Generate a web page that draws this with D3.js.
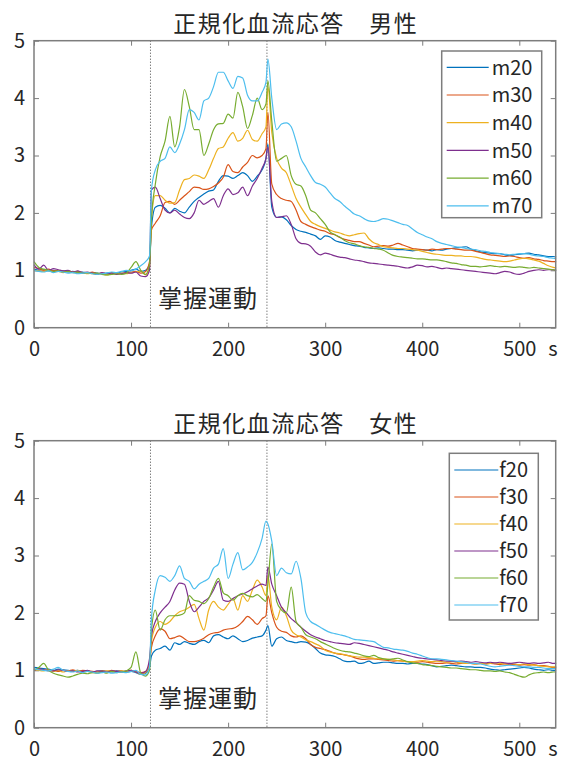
<!DOCTYPE html>
<html>
<head>
<meta charset="utf-8">
<script src="https://cdn.jsdelivr.net/npm/d3@7"></script>
<style>
body { margin: 0; background: #fff; }
text { font-family: "Noto Sans CJK JP", "Noto Sans", sans-serif; fill: #262626; }
</style>
</head>
<body>
<div id="chart"></div>
<script>

// sample times (s)
var times = [0,5,10,15,20,25,30,35,40,45,50,55,60,65,70,75,80,85,90,95,100,105,110,115,
	119,
	121,125,130,135,140,145,150,155,160,165,170,175,180,185,190,195,200,205,210,215,220,225,230,235,239,
	241,
	245,250,255,260,265,270,275,280,285,290,295,300,305,310,315,320,325,330,335,340,
	345,350,355,360,365,370,375,380,385,390,395,400,405,410,415,420,425,430,435,440,
	445,450,455,460,465,470,475,480,485,490,495,500,505,510,515,520,525,530,535,
	538];

var maleNames = ['m20', 'm30', 'm40', 'm50', 'm60', 'm70'];
var femaleNames = ['f20', 'f30', 'f40', 'f50', 'f60', 'f70'];

var m20 = [1.02,1.00,1.01,0.99,1.00,0.98,0.99,0.97,0.98,0.96,0.97,0.95,0.96,0.95,0.94,0.95,0.96,0.95,0.97,0.98,1.00,1.02,0.98,1.00,
	1.10,
	1.75,2.10,2.13,2.08,2.00,2.08,2.03,2.00,2.10,2.20,2.27,2.33,2.38,2.40,2.55,2.65,2.64,2.60,2.65,2.70,2.65,2.55,2.64,2.75,2.95,
	3.20,
	2.10,1.92,1.93,1.88,1.78,1.71,1.68,1.66,1.63,1.60,1.54,1.60,1.58,1.52,1.49,1.47,1.45,1.43,1.42,1.40,
	1.39,1.38,1.39,1.38,1.37,1.37,1.36,1.36,1.35,1.34,1.35,1.36,1.35,1.34,1.36,1.35,1.37,1.38,1.39,1.40,
	1.41,1.37,1.34,1.32,1.31,1.30,1.29,1.29,1.27,1.26,1.27,1.28,1.29,1.30,1.28,1.27,1.25,1.24,1.24,
	1.23];
var m30 = [1.05,1.03,1.00,1.02,0.99,1.00,0.98,0.99,0.97,0.98,0.96,0.95,0.97,0.94,0.95,0.94,0.96,0.95,0.94,0.96,0.97,0.98,0.95,0.98,
	1.15,
	1.70,1.82,1.95,2.18,2.20,2.15,2.22,2.30,2.37,2.45,2.44,2.41,2.42,2.46,2.52,2.62,2.84,2.72,2.70,2.80,2.88,3.00,2.96,3.00,3.12,
	3.75,
	2.50,2.32,2.25,2.22,2.20,2.05,1.85,1.80,1.76,1.73,1.70,1.68,1.64,1.62,1.57,1.54,1.52,1.50,1.50,1.47,
	1.44,1.41,1.42,1.43,1.42,1.44,1.47,1.44,1.41,1.38,1.37,1.36,1.35,1.37,1.36,1.37,1.38,1.38,1.37,1.36,
	1.35,1.35,1.33,1.31,1.29,1.27,1.26,1.25,1.24,1.25,1.24,1.22,1.21,1.22,1.20,1.19,1.17,1.16,1.15,
	1.15];
var m40 = [1.00,0.99,0.98,1.00,0.97,0.98,0.96,0.99,0.97,0.95,0.96,0.94,0.95,0.93,0.94,0.92,0.94,0.93,0.95,0.94,0.96,0.97,0.99,0.92,
	1.05,
	1.90,2.30,2.30,2.22,2.17,2.18,2.40,2.58,2.60,2.66,2.64,2.60,2.75,2.95,3.12,3.15,3.30,3.40,3.25,3.30,3.44,3.28,3.25,3.38,3.50,
	4.20,
	3.40,2.95,2.78,2.70,2.48,2.25,2.10,1.97,1.85,1.80,1.76,1.73,1.70,1.67,1.65,1.62,1.60,1.62,1.64,1.65,
	1.55,1.48,1.45,1.41,1.40,1.39,1.38,1.38,1.37,1.36,1.35,1.33,1.31,1.29,1.28,1.27,1.26,1.26,1.25,1.25,
	1.24,1.24,1.23,1.21,1.19,1.18,1.17,1.16,1.15,1.16,1.18,1.20,1.21,1.20,1.18,1.16,1.12,1.08,1.05,
	1.04];
var m50 = [1.10,1.02,1.09,1.00,1.03,1.01,0.99,1.00,0.97,0.99,0.96,0.97,0.95,0.93,0.96,0.94,0.95,0.93,0.94,0.96,0.95,0.97,0.90,0.89,
	1.00,
	2.40,2.45,2.25,2.05,2.00,2.05,1.98,1.92,1.90,2.00,2.22,2.15,2.20,2.25,2.10,2.30,2.42,2.32,2.35,2.45,2.30,2.47,2.60,2.78,2.95,
	3.15,
	2.20,1.92,1.93,1.95,1.80,1.55,1.47,1.46,1.42,1.32,1.27,1.30,1.28,1.25,1.23,1.22,1.20,1.18,1.17,1.15,
	1.13,1.12,1.11,1.10,1.09,1.08,1.07,1.05,1.04,1.06,1.09,1.08,1.06,1.07,1.05,1.03,1.04,1.03,1.02,1.01,
	1.00,0.99,0.98,0.97,0.96,0.95,0.94,0.96,0.98,0.97,0.94,0.93,0.95,0.98,1.00,1.01,1.00,1.01,1.01,
	1.00];
var m60 = [1.15,1.05,1.02,1.00,0.98,0.99,0.97,0.98,0.96,0.97,0.95,0.96,0.94,0.95,0.93,0.92,0.93,0.94,0.93,0.95,1.05,1.15,1.00,0.93,
	1.10,
	1.90,2.50,2.98,3.25,3.68,3.15,3.50,4.15,3.85,3.45,3.45,3.00,3.20,3.45,3.55,3.56,3.72,3.65,4.10,3.85,3.47,3.70,4.00,3.80,3.90,
	4.30,
	3.60,2.90,2.95,3.00,2.65,2.50,2.47,2.30,2.05,2.00,1.90,1.80,1.67,1.62,1.58,1.52,1.48,1.46,1.43,1.41,
	1.40,1.38,1.37,1.35,1.30,1.26,1.24,1.23,1.22,1.21,1.20,1.20,1.19,1.18,1.18,1.17,1.15,1.13,1.12,1.10,
	1.09,1.07,1.07,1.06,1.07,1.08,1.07,1.06,1.07,1.06,1.05,1.06,1.05,1.04,1.05,1.04,1.03,1.02,1.01,
	1.00];
var m70 = [1.00,0.98,0.97,0.99,0.96,0.98,0.97,0.95,0.96,0.94,0.95,0.96,0.94,0.93,0.94,0.95,0.97,0.96,0.98,1.00,0.99,1.02,1.08,1.15,
	1.25,
	2.40,2.75,2.90,2.95,3.15,3.05,3.20,3.45,3.80,3.75,3.62,3.95,4.00,4.20,4.45,4.45,4.30,4.17,4.38,4.35,4.05,3.95,3.95,4.10,4.28,
	4.68,
	4.00,3.45,3.55,3.57,3.50,3.25,2.95,2.80,2.65,2.53,2.50,2.45,2.35,2.25,2.20,2.12,2.05,1.98,1.95,1.90,
	1.86,1.85,1.87,1.90,1.89,1.86,1.83,1.80,1.78,1.72,1.66,1.62,1.58,1.55,1.50,1.47,1.45,1.43,1.41,1.40,
	1.38,1.37,1.36,1.34,1.33,1.31,1.30,1.29,1.28,1.27,1.28,1.29,1.29,1.28,1.26,1.25,1.24,1.22,1.21,
	1.20];

var f20 = [1.05,1.04,1.03,1.02,1.00,1.02,1.01,1.00,0.99,1.00,0.98,0.99,0.97,0.98,0.99,0.98,0.97,0.99,0.98,0.97,0.98,0.96,0.93,0.95,
	1.05,
	1.25,1.35,1.38,1.42,1.35,1.48,1.45,1.50,1.47,1.45,1.50,1.52,1.48,1.60,1.62,1.58,1.55,1.60,1.55,1.50,1.52,1.56,1.58,1.60,1.70,
	1.78,
	1.42,1.55,1.58,1.52,1.50,1.48,1.50,1.49,1.45,1.38,1.30,1.27,1.26,1.24,1.20,1.16,1.15,1.16,1.12,1.13,
	1.16,1.12,1.13,1.14,1.14,1.13,1.12,1.12,1.11,1.12,1.12,1.11,1.10,1.08,1.06,1.07,1.08,1.09,1.08,1.07,
	1.06,1.06,1.05,1.05,1.04,1.02,1.01,1.00,1.01,1.02,1.03,1.04,1.05,1.04,1.02,1.01,1.00,1.01,1.00,
	1.00];
var f30 = [1.00,1.02,1.01,0.99,1.00,0.98,1.00,0.99,1.01,0.98,1.00,0.99,0.98,0.97,0.99,0.98,1.00,0.98,0.99,0.97,1.00,0.98,0.96,0.98,
	1.10,
	1.40,1.60,1.72,1.68,1.55,1.57,1.60,1.55,1.50,1.50,1.52,1.56,1.62,1.65,1.66,1.70,1.72,1.73,1.77,1.85,1.94,1.88,1.80,1.90,1.95,
	2.30,
	2.00,1.75,1.68,1.66,1.60,1.58,1.60,1.55,1.45,1.40,1.38,1.36,1.33,1.30,1.28,1.27,1.25,1.22,1.20,1.19,
	1.20,1.20,1.19,1.18,1.17,1.16,1.17,1.16,1.15,1.15,1.14,1.15,1.14,1.13,1.12,1.12,1.13,1.12,1.11,1.12,
	1.13,1.12,1.11,1.12,1.11,1.12,1.11,1.10,1.11,1.10,1.10,1.09,1.10,1.09,1.10,1.08,1.08,1.07,1.05,
	1.05];
var f40 = [1.02,1.00,0.99,1.01,0.98,1.00,0.97,0.99,0.98,1.00,0.97,0.98,0.96,0.98,0.97,0.99,0.98,0.97,0.99,0.98,1.00,0.97,0.93,0.96,
	1.12,
	1.50,1.75,1.85,1.80,1.85,1.95,2.02,2.05,2.10,2.15,1.90,1.70,2.05,2.20,2.10,2.05,2.15,2.25,2.05,2.30,2.20,2.40,2.57,2.45,2.30,
	2.65,
	2.10,1.88,2.10,1.95,1.70,1.62,1.58,1.53,1.50,1.46,1.42,1.35,1.32,1.30,1.29,1.27,1.25,1.24,1.23,1.23,
	1.22,1.21,1.20,1.20,1.19,1.18,1.17,1.16,1.15,1.15,1.16,1.17,1.16,1.15,1.16,1.15,1.14,1.15,1.14,1.13,
	1.12,1.12,1.11,1.12,1.11,1.12,1.13,1.12,1.11,1.12,1.11,1.10,1.11,1.10,1.09,1.08,1.07,1.06,1.06,
	1.06];
var f50 = [1.00,1.03,1.01,1.00,0.99,1.01,1.00,0.98,0.99,0.97,0.98,1.00,0.97,0.99,0.98,0.97,0.99,0.98,0.97,0.99,1.00,0.97,0.95,0.98,
	1.20,
	1.60,1.85,2.00,2.10,2.20,2.40,2.52,2.50,2.20,2.02,2.10,2.20,2.26,2.40,2.55,2.22,2.20,2.25,2.30,2.33,2.37,2.42,2.47,2.50,2.48,
	2.80,
	2.50,2.30,2.10,2.00,1.90,1.83,1.75,1.68,1.62,1.58,1.55,1.52,1.50,1.48,1.47,1.46,1.45,1.48,1.47,1.45,
	1.43,1.41,1.39,1.37,1.35,1.32,1.30,1.28,1.26,1.24,1.22,1.21,1.20,1.19,1.18,1.17,1.16,1.16,1.15,1.16,
	1.15,1.14,1.15,1.14,1.13,1.14,1.13,1.14,1.13,1.12,1.13,1.14,1.13,1.12,1.13,1.12,1.13,1.14,1.12,
	1.12];
var f60 = [1.00,1.05,1.12,1.00,0.95,0.92,0.90,0.88,0.90,0.93,0.95,0.94,0.96,0.95,0.97,0.95,0.98,0.96,0.97,0.99,1.05,1.32,0.95,0.90,
	1.00,
	1.70,2.05,1.70,1.88,1.95,1.95,1.96,2.00,2.30,2.22,2.20,2.16,2.25,2.45,2.60,2.35,2.30,2.22,2.30,2.34,2.30,2.28,2.32,2.25,2.20,
	2.50,
	3.20,2.20,2.05,2.00,2.45,1.85,1.75,1.62,1.58,1.55,1.50,1.46,1.42,1.38,1.35,1.33,1.32,1.30,1.28,1.25,
	1.24,1.26,1.22,1.20,1.19,1.20,1.21,1.18,1.15,1.13,1.12,1.10,1.09,1.08,1.07,1.06,1.05,1.04,1.04,1.03,
	1.02,1.01,1.01,1.00,0.99,0.99,0.98,0.99,0.97,0.96,0.93,0.90,0.88,0.92,0.95,0.96,0.97,0.96,0.97,
	0.97];
var f70 = [1.03,1.01,1.00,0.99,1.02,1.05,1.00,0.98,0.97,0.99,0.96,0.98,0.97,0.95,0.96,0.97,0.95,0.96,0.97,0.96,0.98,1.00,0.93,0.92,
	1.05,
	1.90,2.40,2.65,2.62,2.55,2.65,2.82,2.60,2.55,2.42,2.50,2.55,2.60,2.78,2.85,3.12,2.60,2.85,3.05,2.75,2.80,2.88,3.05,3.30,3.60,
	3.55,
	3.25,2.65,2.78,2.70,2.68,2.90,2.60,2.00,1.85,1.80,1.75,1.70,1.66,1.64,1.62,1.60,1.57,1.54,1.53,1.52,
	1.51,1.50,1.45,1.40,1.39,1.37,1.36,1.35,1.33,1.30,1.28,1.25,1.22,1.20,1.20,1.19,1.18,1.17,1.16,1.15,
	1.14,1.12,1.12,1.11,1.09,1.07,1.06,1.07,1.08,1.09,1.08,1.07,1.06,1.06,1.05,1.05,1.04,1.03,1.03,
	1.03];

var xTicks = [0, 100, 200, 300, 400, 500];
var yTicks = [0, 1, 2, 3, 4, 5];
var exerciseMarks = [120, 240];
var colors = ['#0072BD', '#D95319', '#EDB120', '#7E2F8E', '#77AC30', '#4DBEEE'];

var width = 563,
	height = 762;

var svg = d3.select('#chart').append('svg')
	.attr('width', width)
	.attr('height', height);

var x = d3.scaleLinear()
	.domain([0, 537.5])
	.range([34, 555.7]);

var boxColor = '#7d7d7d';

function drawPanel(top, title, names, series, legend) {
	var bottom = top + 287;
	var y = d3.scaleLinear().domain([0, 5]).range([bottom, top]);
	var g = svg.append('g');

	// ticks (inside)
	g.append('g')
		.attr('transform', 'translate(0,' + bottom + ')')
		.call(d3.axisBottom(x).tickValues(xTicks).tickFormat(d3.format('d')).tickSizeInner(-5).tickSizeOuter(0).tickPadding(14))
		.call(styleAxis);
	g.append('g')
		.attr('transform', 'translate(0,' + top + ')')
		.call(d3.axisTop(x).tickValues(xTicks).tickSizeInner(-5).tickSizeOuter(0).tickFormat(''))
		.call(styleAxis);
	g.append('g')
		.attr('transform', 'translate(' + x.range()[0] + ',0)')
		.call(d3.axisLeft(y).tickValues(yTicks).tickFormat(d3.format('d')).tickSizeInner(-5).tickSizeOuter(0).tickPadding(9))
		.call(styleAxis);
	g.append('g')
		.attr('transform', 'translate(' + x.range()[1] + ',0)')
		.call(d3.axisRight(y).tickValues(yTicks).tickSizeInner(-5).tickSizeOuter(0).tickFormat(''))
		.call(styleAxis);

	// unit label
	g.append('text')
		.attr('x', 553)
		.attr('y', bottom + 14)
		.attr('dy', '0.71em')
		.attr('text-anchor', 'middle')
		.style('font-size', '20px')
		.text('s');

	// exercise period markers
	g.selectAll('line.mark')
		.data(exerciseMarks)
		.enter()
		.append('line')
		.attr('class', 'mark')
		.attr('x1', function(d) { return x(d); })
		.attr('x2', function(d) { return x(d); })
		.attr('y1', top)
		.attr('y2', bottom)
		.style('stroke', '#444')
		.style('stroke-width', 1)
		.style('stroke-dasharray', '1,2');

	g.append('text')
		.attr('x', 158)
		.attr('y', bottom - 21)
		.style('font-size', '24px')
		.style('letter-spacing', '1px')
		.text('掌握運動');

	// series
	var line = d3.line()
		.x(function(d, i) { return x(times[i]); })
		.y(function(d) { return y(d); })
		.curve(d3.curveMonotoneX);

	g.selectAll('path.series')
		.data(series)
		.enter()
		.append('path')
		.attr('class', 'series')
		.attr('d', line)
		.style('fill', 'none')
		.style('stroke', function(d, i) { return colors[i]; })
		.style('stroke-width', 1.2)
		.style('stroke-linejoin', 'round');

	// box
	g.append('rect')
		.attr('x', x.range()[0])
		.attr('y', top)
		.attr('width', x.range()[1] - x.range()[0])
		.attr('height', bottom - top)
		.style('fill', 'none')
		.style('stroke', boxColor)
		.style('stroke-width', 1.5);

	// title
	g.append('text')
		.attr('x', (x.range()[0] + x.range()[1]) / 2 + 1)
		.attr('y', top - 8.5)
		.attr('text-anchor', 'middle')
		.style('font-size', '23px')
		.style('letter-spacing', '1.5px')
		.text(title);

	// legend
	var lg = g.append('g');
	lg.append('rect')
		.attr('x', legend.x)
		.attr('y', legend.y)
		.attr('width', legend.w)
		.attr('height', legend.h)
		.style('fill', '#fff')
		.style('stroke', boxColor)
		.style('stroke-width', 1.5);
	var items = lg.selectAll('g.item')
		.data(names)
		.enter()
		.append('g')
		.attr('class', 'item')
		.attr('transform', function(d, i) {
			return 'translate(0,' + (legend.y + legend.first + i * legend.step) + ')';
		});
	items.append('line')
		.attr('x1', legend.x + legend.lineFrom)
		.attr('x2', legend.x + legend.lineTo)
		.style('stroke', function(d, i) { return colors[i]; })
		.style('stroke-width', 1.2);
	items.append('text')
		.attr('x', legend.x + legend.textAt)
		.attr('dy', '0.36em')
		.style('font-size', '20px')
		.text(function(d) { return d; });
}

function styleAxis(sel) {
	sel.select('.domain').remove();
	sel.selectAll('.tick line').style('stroke', boxColor).style('stroke-width', 1);
	sel.selectAll('.tick text')
		.style('font-size', '20px')
		.style('font-family', '"Noto Sans CJK JP", "Noto Sans", sans-serif')
		.style('fill', '#262626');
}

drawPanel(40.7, '正規化血流応答　男性', maleNames, [m20, m30, m40, m50, m60, m70],
	{x: 441.7, y: 51, w: 100, h: 166.7, first: 16.3, step: 27.7, lineFrom: 5, lineTo: 47, textAt: 50});
drawPanel(440.7, '正規化血流応答　女性', femaleNames, [f20, f30, f40, f50, f60, f70],
	{x: 449.3, y: 453.3, w: 89, h: 166.7, first: 16.7, step: 27, lineFrom: 5, lineTo: 49, textAt: 50});

</script>
</body>
</html>
